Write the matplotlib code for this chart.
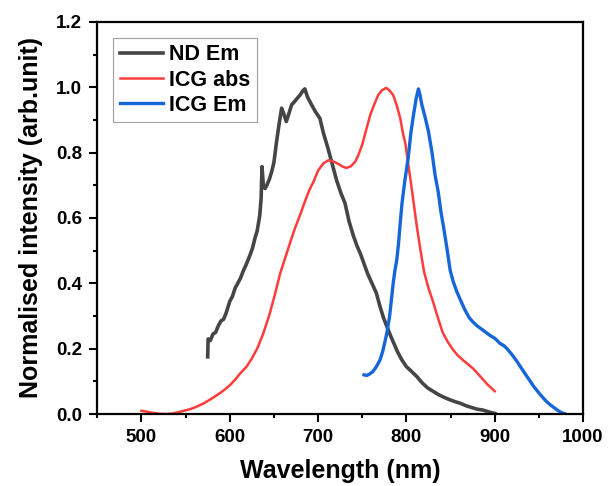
import matplotlib
matplotlib.use("Agg")
import matplotlib.pyplot as plt
from matplotlib.ticker import MultipleLocator

plt.rcParams['font.family'] = ['Liberation Sans', 'DejaVu Sans']
plt.rcParams['font.weight'] = 'bold'

# ND emission (grey)
nd_wl = [575, 575.5, 578, 581, 584, 587, 590, 593, 596, 600, 603, 606, 609, 612, 615, 619,
         623, 626, 628.5, 631, 634, 635.5, 636.5, 638, 640, 642, 645, 647.5, 650, 653, 656,
         658.7, 661, 664, 667, 670, 673, 676, 679.5, 683, 685, 688, 692.7, 697, 702, 706,
         711, 716, 721, 726, 730.5, 735, 740, 744, 748, 752, 756, 761, 766, 770, 774, 778,
         782, 786, 790, 795, 800, 806, 812, 818, 824, 830, 836, 842, 848, 855, 861, 868,
         874, 880, 887, 894, 900]
nd_em = [0.175, 0.23, 0.225, 0.245, 0.25, 0.27, 0.285, 0.29, 0.31, 0.345, 0.36, 0.385, 0.40, 0.415, 0.436, 0.46,
         0.487, 0.51, 0.538, 0.56, 0.609, 0.66, 0.757, 0.70, 0.69, 0.70, 0.72, 0.742, 0.77, 0.834, 0.89,
         0.936, 0.92, 0.895, 0.92, 0.946, 0.955, 0.965, 0.976, 0.99, 0.995, 0.97, 0.946, 0.925, 0.905, 0.86,
         0.815, 0.765, 0.715, 0.675, 0.645, 0.59, 0.545, 0.515, 0.49, 0.46, 0.43, 0.40, 0.37, 0.33, 0.295, 0.267,
         0.24, 0.215, 0.19, 0.165, 0.145, 0.13, 0.114, 0.095, 0.08, 0.07, 0.06, 0.052, 0.045, 0.038, 0.033, 0.025,
         0.02, 0.015, 0.012, 0.006, 0.002]

# ICG absorption (red)
abs_wl = [500, 505, 512, 520, 528, 536, 545, 555, 562, 570, 578, 585, 592, 600, 606, 612,
          619, 625, 631, 638, 645, 651, 657, 663, 669, 674, 680, 685, 690, 695, 700, 706,
          712, 718, 723, 728, 732, 737, 742, 746, 750, 755, 759, 764, 768, 772, 777, 781,
          785, 789, 793, 796, 799, 802, 805, 808, 812, 816, 820, 825, 830, 835, 841, 847,
          853, 858, 864, 870, 876, 884, 892, 900]
abs_y = [0.01, 0.008, 0.004, 0.001, 0.0, 0.002, 0.008, 0.015, 0.022, 0.032, 0.045, 0.057, 0.07, 0.088, 0.105, 0.125,
         0.145, 0.17, 0.2, 0.247, 0.305, 0.365, 0.43, 0.48, 0.53, 0.57, 0.612, 0.65, 0.685, 0.712, 0.745, 0.767,
         0.777, 0.772, 0.765, 0.757, 0.753, 0.758, 0.772, 0.795, 0.825, 0.875, 0.915, 0.95, 0.976, 0.99, 0.998, 0.99,
         0.976, 0.945, 0.905, 0.86, 0.825, 0.765, 0.71, 0.65, 0.57, 0.50, 0.435, 0.385, 0.345, 0.30, 0.25, 0.22,
         0.196, 0.18, 0.165, 0.152, 0.138, 0.114, 0.09, 0.07]

# ICG emission (blue)
icg_wl = [752, 755, 758, 762, 766, 770, 773, 776, 778, 781, 783, 785, 787, 789, 791, 793,
          795, 798, 802, 805, 808, 811, 813.6, 815.5, 817.5, 821, 825, 829, 832.5, 836, 839, 842,
          846, 849.5, 853, 857, 861, 866, 871, 876, 880, 885, 890, 895, 900, 906, 910, 914,
          920, 925, 929, 934, 939, 944, 949, 953, 958, 963, 968, 972, 976, 980]
icg_em = [0.12, 0.118, 0.122, 0.13, 0.145, 0.165, 0.19, 0.225, 0.25, 0.3, 0.35, 0.40, 0.44, 0.47, 0.52, 0.585,
          0.645, 0.71, 0.783, 0.86, 0.915, 0.965, 0.995, 0.975, 0.946, 0.91, 0.864, 0.80, 0.73, 0.68, 0.62, 0.573,
          0.505, 0.44, 0.405, 0.375, 0.35, 0.32, 0.295, 0.28, 0.27, 0.26, 0.25, 0.24, 0.232, 0.216, 0.21, 0.20,
          0.18, 0.162, 0.145, 0.125, 0.105, 0.085, 0.068, 0.055, 0.04, 0.028, 0.018, 0.01, 0.004, 0.0]

fig = plt.figure(figsize=(6.08, 4.86), dpi=100)
ax = fig.add_axes([0.16, 0.148, 0.799, 0.807])

ax.plot(nd_wl, nd_em, color='#454545', lw=2.6, label='ND Em')
ax.plot(abs_wl, abs_y, color='#ff3c3c', lw=1.8, label='ICG abs')
ax.plot(icg_wl, icg_em, color='#1766d9', lw=2.4, label='ICG Em')

ax.set_xlim(450, 1000)
ax.set_ylim(0, 1.2)
ax.xaxis.set_major_locator(MultipleLocator(100))
ax.xaxis.set_minor_locator(MultipleLocator(50))
ax.yaxis.set_major_locator(MultipleLocator(0.2))
ax.yaxis.set_minor_locator(MultipleLocator(0.1))
ax.yaxis.set_major_formatter(plt.FuncFormatter(lambda v, p: f"{v:.1f}"))
ax.tick_params(which='major', direction='out', length=6, width=1.5, labelsize=13.5, pad=5)
ax.tick_params(which='minor', direction='out', length=3, width=1.5)
for s in ax.spines.values():
    s.set_linewidth(1.6)

ax.set_xlabel('Wavelength (nm)', fontsize=18, fontweight='bold', labelpad=9)
ax.set_ylabel('Normalised intensity (arb.unit)', fontsize=18, fontweight='bold', labelpad=9)

leg = ax.legend(loc='upper left', fontsize=15.5, frameon=True, fancybox=False,
                handlelength=2.0, borderpad=0.3, labelspacing=0.2, handletextpad=0.3,
                borderaxespad=0, bbox_to_anchor=(0.033, 0.959))
leg.get_frame().set_edgecolor('#888888')
leg.get_frame().set_linewidth(0.8)

plt.savefig("out.png", dpi=100)
